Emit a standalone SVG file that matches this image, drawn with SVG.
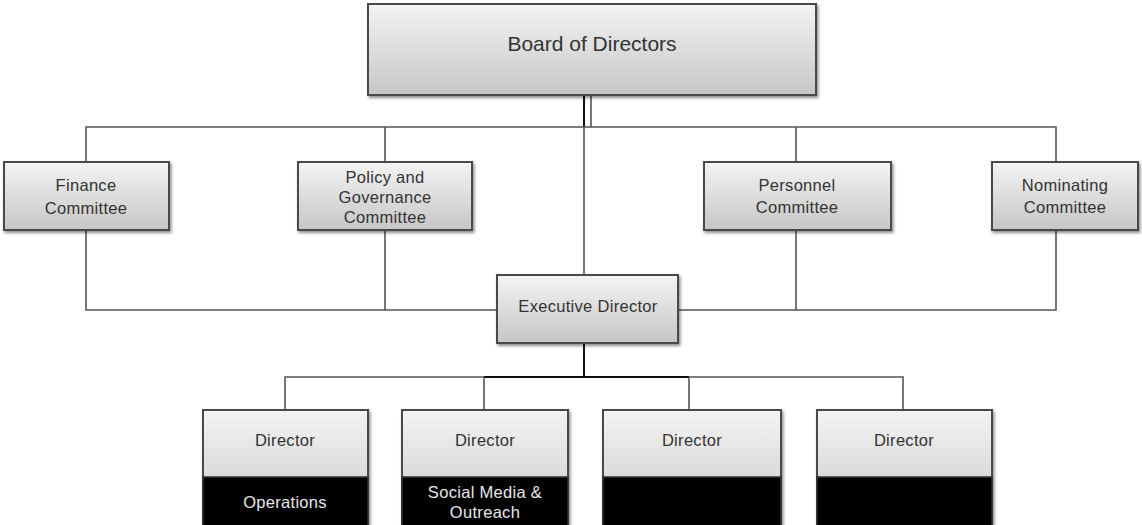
<svg xmlns="http://www.w3.org/2000/svg" width="1142" height="525" viewBox="0 0 1142 525">
<defs>
<linearGradient id="g" x1="0" y1="0" x2="0" y2="1">
<stop offset="0" stop-color="#f4f4f4"/>
<stop offset="1" stop-color="#c6c6c6"/>
</linearGradient>
<filter id="sh" x="-10%" y="-10%" width="120%" height="130%">
<feDropShadow dx="1.5" dy="2" stdDeviation="1.5" flood-color="#000" flood-opacity="0.45"/>
</filter>
</defs>
<style>
.box{fill:url(#g);stroke:#4a4a4a;stroke-width:2;filter:url(#sh)}
.t{font-family:"Liberation Sans",Arial,sans-serif;font-size:16.5px;fill:#333;text-anchor:middle;letter-spacing:0.3px}
.big{font-size:21px;letter-spacing:0}
.w{fill:#e8e8e8}
.c{fill:none;stroke:#555;stroke-width:1.6}
.cd{fill:none;stroke:#111;stroke-width:2}
.blk{fill:#000;stroke:#333;stroke-width:1.5}
</style>
<rect width="1142" height="525" fill="#fff"/>
<g id="connectors">
<line class="cd" x1="584" y1="96" x2="584" y2="127"/>
<line class="c" x1="591" y1="96" x2="591" y2="127"/>
<polyline class="c" points="86,162 86,127 1056,127 1056,162"/>
<line class="c" x1="385" y1="127" x2="385" y2="162"/>
<line class="c" x1="796" y1="127" x2="796" y2="162"/>
<line class="c" x1="584" y1="127" x2="584" y2="275"/>
<polyline class="c" points="86,230 86,310 497,310"/>
<line class="c" x1="385" y1="230" x2="385" y2="310"/>
<polyline class="c" points="1056,230 1056,310 678,310"/>
<line class="c" x1="796" y1="230" x2="796" y2="310"/>
<line class="cd" x1="584" y1="343" x2="584" y2="377"/>
<polyline class="c" points="285,410 285,377 484,377"/>
<line class="cd" x1="484" y1="377" x2="689" y2="377"/>
<polyline class="c" points="689,377 903,377 903,410"/>
<line class="c" x1="484" y1="377" x2="484" y2="410"/>
<line class="c" x1="689" y1="377" x2="689" y2="410"/>
</g>
<g id="board">
<rect class="box" x="368" y="4" width="448" height="91"/>
<text class="t big" x="592" y="51">Board of Directors</text>
</g>
<g id="finance">
<rect class="box" x="4" y="162" width="165" height="68"/>
<text class="t" x="86" y="191">Finance</text>
<text class="t" x="86" y="214">Committee</text>
</g>
<g id="policy">
<rect class="box" x="298" y="162" width="174" height="68"/>
<text class="t" x="385" y="183">Policy and</text>
<text class="t" x="385" y="203">Governance</text>
<text class="t" x="385" y="223">Committee</text>
</g>
<g id="personnel">
<rect class="box" x="704" y="162" width="187" height="68"/>
<text class="t" x="797" y="191">Personnel</text>
<text class="t" x="797" y="213">Committee</text>
</g>
<g id="nominating">
<rect class="box" x="992" y="162" width="146" height="68"/>
<text class="t" x="1065" y="191">Nominating</text>
<text class="t" x="1065" y="213">Committee</text>
</g>
<g id="executive">
<rect class="box" x="497" y="275" width="181" height="68"/>
<text class="t" x="588" y="312">Executive Director</text>
</g>
<g id="dir-operations">
<rect class="box" x="203" y="410" width="165" height="120"/>
<rect class="blk" x="203" y="477" width="165" height="50"/>
<text class="t" x="285" y="446">Director</text>
<text class="t w" x="285" y="508">Operations</text>
</g>
<g id="dir-social">
<rect class="box" x="402" y="410" width="166" height="120"/>
<rect class="blk" x="402" y="477" width="166" height="50"/>
<text class="t" x="485" y="446">Director</text>
<text class="t w" x="485" y="498">Social Media &amp;</text>
<text class="t w" x="485" y="518">Outreach</text>
</g>
<g id="dir-3">
<rect class="box" x="603" y="410" width="178" height="120"/>
<rect class="blk" x="603" y="477" width="178" height="50"/>
<text class="t" x="692" y="446">Director</text>
</g>
<g id="dir-4">
<rect class="box" x="817" y="410" width="175" height="120"/>
<rect class="blk" x="817" y="477" width="175" height="50"/>
<text class="t" x="904" y="446">Director</text>
</g>
</svg>
